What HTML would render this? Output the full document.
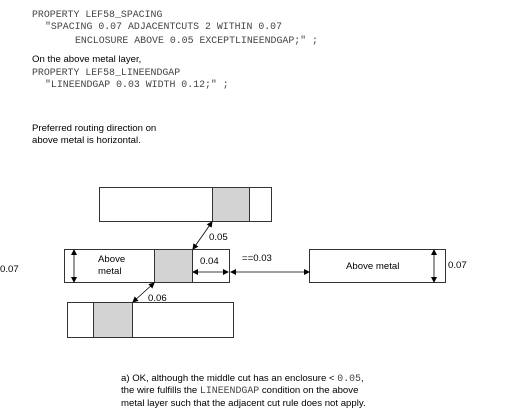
<!DOCTYPE html>
<html><head><style>
body{margin:0;width:506px;height:420px;background:#fff;position:relative;overflow:hidden}
.t{position:absolute;white-space:pre;line-height:12px}
.m{font-family:"Liberation Mono",monospace;font-size:9.9px;color:#444}
.s{font-family:"Liberation Sans",sans-serif;font-size:9.6px;color:#000}
</style></head><body>
<div class="t m" style="left:32px;top:9px">PROPERTY LEF58_SPACING</div>
<div class="t m" style="left:45px;top:21px">"SPACING 0.07 ADJACENTCUTS 2 WITHIN 0.07</div>
<div class="t m" style="left:75px;top:35px">ENCLOSURE ABOVE 0.05 EXCEPTLINEENDGAP;" ;</div>
<div class="t s" style="left:32px;top:54px">On the above metal layer,</div>
<div class="t m" style="left:32px;top:67px">PROPERTY LEF58_LINEENDGAP</div>
<div class="t m" style="left:45px;top:79px">"LINEENDGAP 0.03 WIDTH 0.12;" ;</div>
<div class="t s" style="left:32px;top:123px">Preferred routing direction on</div>
<div class="t s" style="left:32px;top:135px">above metal is horizontal.</div>
<div class="t s" style="left:121px;top:373px">a) OK, although the middle cut has an enclosure &lt; <span class="m">0.05</span>,</div>
<div class="t s" style="left:121px;top:385px">the wire fulfills the <span class="m">LINEENDGAP</span> condition on the above</div>
<div class="t s" style="left:121px;top:398px">metal layer such that the adjacent cut rule does not apply.</div>
<svg width="506" height="420" style="position:absolute;left:0;top:0" font-family="Liberation Sans, sans-serif" font-size="9.6">
<defs><marker id="a" markerWidth="6" markerHeight="6" refX="5" refY="3" orient="auto-start-reverse" markerUnits="userSpaceOnUse"><path d="M0,0L6,3L0,6z" fill="#000"/></marker></defs>
<g stroke="#333" stroke-width="1" fill="#fff">
<rect x="99.5" y="187.5" width="172" height="34"/>
<rect x="212.5" y="187.5" width="37" height="34" fill="#d3d3d3"/>
<rect x="64.5" y="249.5" width="165" height="33"/>
<rect x="154.5" y="249.5" width="38" height="33" fill="#d3d3d3"/>
<rect x="67.5" y="302.5" width="166" height="35"/>
<rect x="93.5" y="302.5" width="39" height="35" fill="#d3d3d3"/>
<rect x="309.5" y="249.5" width="136" height="33"/>
</g>
<g stroke="#000" stroke-width="0.8" marker-start="url(#a)" marker-end="url(#a)">
<line x1="74" y1="250" x2="74" y2="282"/>
<line x1="434" y1="250" x2="434" y2="282"/>
<line x1="212" y1="222" x2="193" y2="249"/>
<line x1="154" y1="283" x2="133" y2="302"/>
<line x1="193" y1="272" x2="228" y2="272"/>
<line x1="231" y1="272" x2="309" y2="272"/>
</g>
<text x="0" y="272">0.07</text>
<text x="448" y="268">0.07</text>
<text x="98" y="262">Above</text>
<text x="98" y="274">metal</text>
<text x="346" y="269">Above metal</text>
<text x="200" y="264">0.04</text>
<text x="242" y="261">==0.03</text>
<text x="209" y="240">0.05</text>
<text x="148" y="301">0.06</text>
</svg>
</body></html>
